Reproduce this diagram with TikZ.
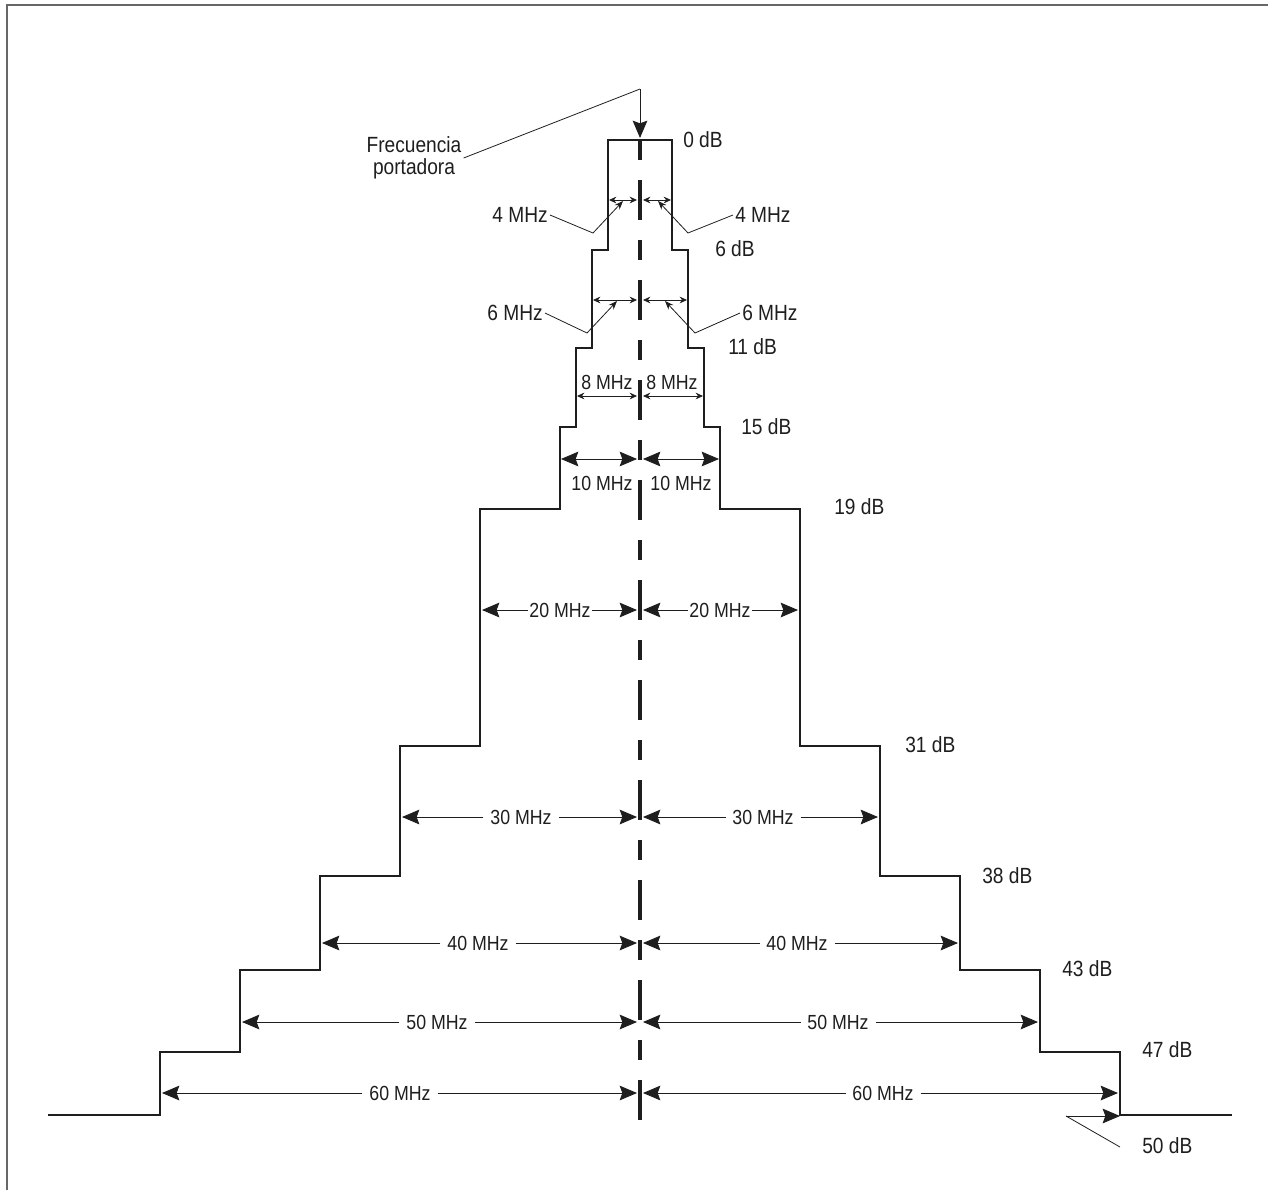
\documentclass[tikz,border=0pt]{standalone}
\usepackage{fontspec}
\setmainfont{Liberation Sans}[FakeStretch=0.87]
\usetikzlibrary{arrows.meta}
\definecolor{framegray}{HTML}{676767}
\definecolor{ink}{HTML}{1E1E1E}

\begin{document}
\begin{tikzpicture}[x=0.75pt,y=-0.75pt,
  every node/.style={inner sep=1.5pt,text=ink,font=\fontsize{16.5}{16.5}\selectfont},
  small/.style={font=\fontsize{15.3}{16}\selectfont},
  stair/.style={line width=2.2pt,draw=ink},
  axis/.style={line width=3pt,draw=ink,dash pattern=on 15pt off 15pt on 30pt off 15pt},
  frame/.style={line width=1.5pt,draw=framegray},
  dimbig/.style={line width=0.7pt,draw=ink,{Stealth[length=13pt,width=11pt,inset=2pt]}-{Stealth[length=13pt,width=11pt,inset=2pt]}},
  dimsmall/.style={line width=0.6pt,draw=ink,{Stealth[length=5.5pt,width=5pt]}-{Stealth[length=5.5pt,width=5pt]}},
  tobig/.style={line width=0.7pt,draw=ink,-{Stealth[length=13pt,width=11pt,inset=2pt]}},
  lead/.style={line width=0.6pt,draw=ink,-{Stealth[length=6.5pt,width=5pt]}}]
\useasboundingbox (0,0) rectangle (1268,1190);
\draw[frame] (7,1190) -- (7,5) -- (1268,5);
% spectrum mask
\draw[stair] (48,1115) -- (160,1115) |- (240,1052) |- (320,970) |- (400,876)
  |- (480,746) |- (560,509) |- (576,427) |- (592,348) |- (608,250) |- (672,140)
  |- (688,250) |- (704,348) |- (720,427) |- (800,509) |- (880,746) |- (960,876)
  |- (1040,970) |- (1120,1052) |- (1232,1115);
\draw[axis] (640,140) -- (640,1120);
% carrier
\node[align=center] (fp) at (414,158) {Frecuencia\\portadora};
\draw[line width=0.6pt,draw=ink] (fp.east) -- (640,89);
\draw[tobig] (640,89) -- (640,138);
% levels
\node[anchor=west] (db0) at (681,140) {0 dB};
\node[anchor=west] (db6) at (713,249) {6 dB};
\node[anchor=west] (db11) at (726,347) {11 dB};
\node[anchor=west] (db15) at (739,427) {15 dB};
\node[anchor=west] (db19) at (832,507) {19 dB};
\node[anchor=west] (db31) at (903,745) {31 dB};
\node[anchor=west] (db38) at (980,876) {38 dB};
\node[anchor=west] (db43) at (1060,969) {43 dB};
\node[anchor=west] (db47) at (1140,1050) {47 dB};
\node[anchor=west] (db50) at (1140,1146) {50 dB};
\coordinate (p50) at (1120,1147);
\draw[line width=0.6pt,draw=ink] (p50) -- (1066,1116);
\draw[tobig] (1066,1116) -- (1120,1116);
% 4 MHz
\draw[dimsmall] (609,200) -- (637,200);
\draw[dimsmall] (643,200) -- (671,200);
\node[anchor=east] (m4a) at (550,215) {4 MHz};
\node[anchor=west] (m4b) at (733,215) {4 MHz};
\draw[lead] (m4a.east) -- (593,233) -- (623,201);
\draw[lead] (m4b.west) -- (688,233) -- (658,201);
% 6 MHz
\draw[dimsmall] (593,300) -- (637,300);
\draw[dimsmall] (643,300) -- (687,300);
\node[anchor=east] (m6a) at (545,313) {6 MHz};
\node[anchor=west] (m6b) at (740,313) {6 MHz};
\draw[lead] (m6a.east) -- (587,333) -- (617,301);
\draw[lead] (m6b.west) -- (695,333) -- (665,301);
% 8 MHz
\draw[dimsmall] (577,396) -- (637,396);
\draw[dimsmall] (643,396) -- (703,396);
\node[small] (m8a) at (607,382) {8 MHz};
\node[small] (m8b) at (672,382) {8 MHz};
% 10 MHz
\draw[dimbig,line width=0.5pt] (561,459) -- (637,459);
\draw[dimbig,line width=0.5pt] (643,459) -- (719,459);
\node[small] (m10a) at (602,483) {10 MHz};
\node[small] (m10b) at (681,483) {10 MHz};
% 20 MHz
\node[small,inner sep=1pt] (m20a) at (560,610) {20 MHz};
\node[small,inner sep=1pt] (m20b) at (720,610) {20 MHz};
\draw[tobig] (m20a) -- (482,610);
\draw[tobig] (m20a) -- (637,610);
\draw[tobig] (m20b) -- (643,610);
\draw[tobig] (m20b) -- (798,610);
% 30 MHz
\node[small,inner sep=5pt] (m30a) at (521,817) {30 MHz};
\node[small,inner sep=5pt] (m30b) at (763,817) {30 MHz};
\draw[tobig] (m30a) -- (402,817);
\draw[tobig] (m30a) -- (637,817);
\draw[tobig] (m30b) -- (643,817);
\draw[tobig] (m30b) -- (878,817);
% 40 MHz
\node[small,inner sep=5pt] (m40a) at (478,943) {40 MHz};
\node[small,inner sep=5pt] (m40b) at (797,943) {40 MHz};
\draw[tobig] (m40a) -- (322,943);
\draw[tobig] (m40a) -- (637,943);
\draw[tobig] (m40b) -- (643,943);
\draw[tobig] (m40b) -- (958,943);
% 50 MHz
\node[small,inner sep=5pt] (m50a) at (437,1022) {50 MHz};
\node[small,inner sep=5pt] (m50b) at (838,1022) {50 MHz};
\draw[tobig] (m50a) -- (242,1022);
\draw[tobig] (m50a) -- (637,1022);
\draw[tobig] (m50b) -- (643,1022);
\draw[tobig] (m50b) -- (1038,1022);
% 60 MHz
\node[small,inner sep=5pt] (m60a) at (400,1093) {60 MHz};
\node[small,inner sep=5pt] (m60b) at (883,1093) {60 MHz};
\draw[tobig] (m60a) -- (162,1093);
\draw[tobig] (m60a) -- (637,1093);
\draw[tobig] (m60b) -- (643,1093);
\draw[tobig] (m60b) -- (1118,1093);
\end{tikzpicture}
\end{document}
